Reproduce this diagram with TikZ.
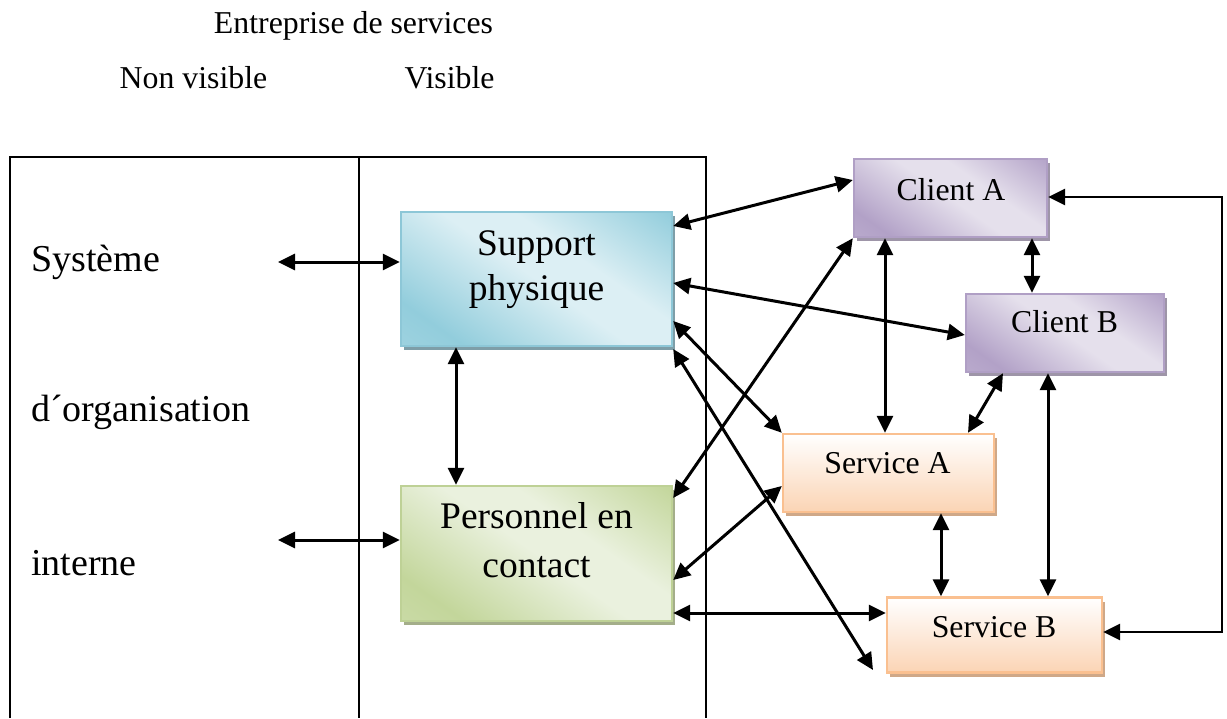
\documentclass[tikz,border=0pt]{standalone}
\usepackage{fontspec}
\setmainfont{Liberation Serif}
\usetikzlibrary{arrows.meta,shadows}

% box colours
\definecolor{bluedark}{RGB}{146,205,220}
\definecolor{bluelight}{RGB}{220,239,244}
\definecolor{blueline}{RGB}{141,199,215}
\definecolor{blueshadow}{RGB}{126,158,168}
\definecolor{greendark}{RGB}{195,214,155}
\definecolor{greenlight}{RGB}{234,241,222}
\definecolor{greenline}{RGB}{190,209,150}
\definecolor{greenshadow}{RGB}{164,174,138}
\definecolor{purpledark}{RGB}{178,161,199}
\definecolor{purplelight}{RGB}{229,224,236}
\definecolor{purpleline}{RGB}{176,159,197}
\definecolor{purpleshadow}{RGB}{158,149,168}
\definecolor{peach}{RGB}{251,212,180}
\definecolor{peachline}{RGB}{250,192,144}
\definecolor{peachshadow}{RGB}{207,168,136}

% diagonal washes: dark band lower left, light middle, dark upper right
\pgfdeclarehorizontalshading{bluewash}{100bp}{color(0bp)=(bluedark!75!bluelight); color(24bp)=(bluedark!75!bluelight); color(34bp)=(bluedark); color(50bp)=(bluelight); color(57bp)=(bluelight); color(72bp)=(bluedark); color(100bp)=(bluedark)}
\pgfdeclarehorizontalshading{greenwash}{100bp}{color(0bp)=(greendark!75!greenlight); color(24bp)=(greendark!75!greenlight); color(34bp)=(greendark); color(50bp)=(greenlight); color(57bp)=(greenlight); color(72bp)=(greendark); color(100bp)=(greendark)}
\pgfdeclarehorizontalshading{purplewash}{100bp}{color(0bp)=(purpledark!75!purplelight); color(24bp)=(purpledark!75!purplelight); color(34bp)=(purpledark); color(50bp)=(purplelight); color(57bp)=(purplelight); color(72bp)=(purpledark); color(100bp)=(purpledark)}

\tikzset{
  box/.style={rectangle, draw, line width=2.4pt, inner sep=0pt},
  % #1 shading, #2 half side of the square that carries the wash
  wash/.style n args={2}{path picture={
    \shade[shading=#1, shading angle=55]
      ([shift={(-#2pt,-#2pt)}]path picture bounding box.center) rectangle
      ([shift={(#2pt,#2pt)}]path picture bounding box.center);}},
  bluebox/.style={box, draw=blueline, wash={bluewash}{150},
    general shadow={fill=blueshadow, shadow xshift=3pt, shadow yshift=-4pt}},
  greenbox/.style={box, draw=greenline, wash={greenwash}{150},
    general shadow={fill=greenshadow, shadow xshift=3pt, shadow yshift=-4pt}},
  purplebox/.style={box, draw=purpleline, wash={purplewash}{102},
    general shadow={fill=purpleshadow, shadow xshift=3pt, shadow yshift=-4pt}},
  peachbox/.style={box, draw=peachline, top color=white, bottom color=peach,
    general shadow={fill=peachshadow, shadow xshift=3pt, shadow yshift=-4pt}},
  txt/.style={inner sep=0pt, anchor=base, font=\fontsize{31.8}{36}\selectfont},
  bigtxt/.style={inner sep=0pt, anchor=base, font=\fontsize{37.5}{44}\selectfont},
  sidetxt/.style={inner sep=0pt, anchor=base west, font=\fontsize{38}{44}\selectfont},
  frame/.style={line width=2.6pt},
  conn/.style={line width=3pt, >={Triangle[length=17pt,width=16pt]}, <->},
}

\begin{document}
\begin{tikzpicture}[x=1pt, y=-1pt]
\useasboundingbox (0,0) rectangle (1227,718);

% headings
\node[txt] (title) at (353.5,33.5) {Entreprise de services};
\node[txt] (hidden) at (193.5,88) {Non visible};
\node[txt] (shown) at (449.5,88) {Visible};

% table frame
\draw[frame] (10,718) -- (10,157) -- (706,157) -- (706,718);
\draw[frame] (359,157) -- (359,718);

% left column
\node[sidetxt] (sys) at (31,271.5) {Système};
\node[sidetxt] (org) at (31,421.5) {d´organisation};
\node[sidetxt] (int) at (31,575) {interne};

% boxes
\node[bluebox, minimum width=271pt, minimum height=134pt] (sp) at (536.5,279) {};
\node[greenbox, minimum width=271pt, minimum height=135pt] (pc) at (536.5,553.5) {};
\node[purplebox, minimum width=193pt, minimum height=78pt] (ca) at (950.5,198) {};
\node[purplebox, minimum width=198pt, minimum height=78pt] (cb) at (1065,333) {};
\node[peachbox, minimum width=211pt, minimum height=78pt] (sa) at (888.5,473) {};
\node[peachbox, minimum width=215pt, minimum height=75pt] (sb) at (994.5,635) {};

% box texts
\node[bigtxt] (spa) at (536.5,255) {Support};
\node[bigtxt] (spb) at (536.5,300) {physique};
\node[bigtxt] (pca) at (536.5,528) {Personnel en};
\node[bigtxt] (pcb) at (536.5,577) {contact};
\node[txt] (cat) at (951,200) {Client A};
\node[txt] (cbt) at (1064.5,332) {Client B};
\node[txt] (sat) at (887.5,473) {Service A};
\node[txt] (sbt) at (994,637) {Service B};

% free ends
\coordinate (sysend) at (278,262);
\coordinate (intend) at (278,540);
\coordinate (cross) at (873,670);
\coordinate (loopA) at (1222,632);
\coordinate (loopB) at (1222,197);

% connectors
\draw[conn] (sysend) -- (sp.west |- sysend);
\draw[conn] (intend) -- (pc.west |- intend);
\draw[conn] (sp.south -| 456,0) -- (pc.north -| 456,0);
\draw[conn] (sp.east |- 0,226) -- (ca.west |- 0,180);
\draw[conn] (sp.east |- 0,283) -- (cb.west |- 0,335);
\draw[conn] (sp.east |- 0,321) -- (sa.north west);
\draw[conn] (sp.east |- 0,349) -- (cross);
\draw[conn] (pc.east |- 0,498) -- (ca.south west);
\draw[conn] (pc.east |- 0,580) -- (sa.west |- 0,486);
\draw[conn] (pc.east |- 0,613) -- (sb.west |- 0,613);
\draw[conn] (ca.south -| 885,0) -- (sa.north -| 885,0);
\draw[conn] (ca.south -| 1032,0) -- (cb.north -| 1032,0);
\draw[conn] (cb.south -| 1003,0) -- (sa.north -| 968,0);
\draw[conn] (cb.south -| 1048,0) -- (sb.north -| 1048,0);
\draw[conn] (sa.south -| 941,0) -- (sb.north -| 941,0);
\draw[conn, line width=2.8pt] (sb.east |- loopA) -- (loopA) -- (loopB) -- (ca.east |- loopB);
\end{tikzpicture}
\end{document}
